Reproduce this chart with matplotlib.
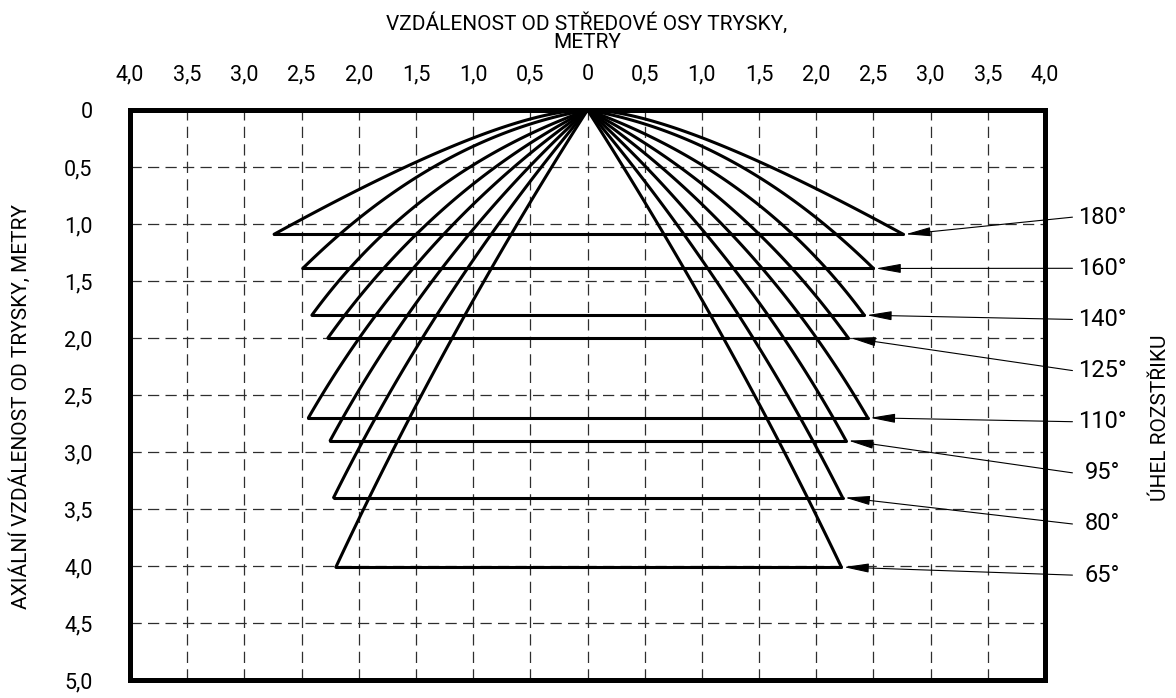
import numpy as np
import matplotlib
matplotlib.use("Agg")
import matplotlib.pyplot as plt

plt.rcParams['font.family'] = ['Roboto', 'DejaVu Sans']

# spray angle (deg), depth of the spray cone (m), half-widths left/right (m)
angles = [180, 160, 140, 125, 110, 95, 80, 65]
depths = [1.09, 1.39, 1.80, 2.00, 2.70, 2.90, 3.40, 4.01]
left_w = [2.74, 2.49, 2.41, 2.27, 2.44, 2.25, 2.22, 2.20]
right_w = [2.76, 2.50, 2.42, 2.28, 2.45, 2.26, 2.23, 2.22]
# how far the curve control point sits along the initial spray direction
ctrl_frac = [0.26, 0.47, 0.53, 0.50, 0.50, 0.50, 0.50, 0.50]

x_ticks = np.arange(-4.0, 4.01, 0.5)
y_ticks = np.arange(0.0, 5.01, 0.5)


def fmt(v):
    v = abs(v)
    if v < 1e-9:
        return "0"
    return f"{v:.1f}".replace(".", ",")


def spray_curve(w, d, ang, frac, side):
    # quadratic bezier from nozzle, leaving at half the spray angle
    a = np.radians(ang / 2.0)
    L = frac * np.hypot(w, d)
    px, py = side * L * np.sin(a), L * np.cos(a)
    t = np.linspace(0, 1, 120)
    x = 2 * t * (1 - t) * px + t ** 2 * side * w
    y = 2 * t * (1 - t) * py + t ** 2 * d
    return x, y


fig = plt.figure(figsize=(11.76, 6.98), dpi=100)
ax = fig.add_axes([130 / 1176, 1 - 680 / 698, 915 / 1176, 570 / 698])

ax.set_xlim(-4, 4)
ax.set_ylim(5, 0)

ax.set_xticks(x_ticks)
ax.set_xticklabels([fmt(v) for v in x_ticks])
ax.set_yticks(y_ticks)
ax.set_yticklabels([fmt(v) for v in y_ticks])
ax.xaxis.tick_top()
ax.tick_params(axis='x', length=0, pad=18, labelsize=15.5)
ax.tick_params(axis='y', length=0, pad=27, labelsize=15.5)

ax.grid(True, color='#2e2e2e', lw=0.9, linestyle=(0, (9, 5)))
ax.set_axisbelow(True)
for s in ax.spines.values():
    s.set_linewidth(3.6)
    s.set_color('black')

for ang, d, wl, wr, f in zip(angles, depths, left_w, right_w, ctrl_frac):
    xl, yl = spray_curve(wl, d, ang, f, -1)
    xr, yr = spray_curve(wr, d, ang, f, 1)
    ax.plot(xl, yl, color='black', lw=2.2, solid_capstyle='round', zorder=3)
    ax.plot(xr, yr, color='black', lw=2.2, solid_capstyle='round', zorder=3)
    ax.plot([-wl, wr], [d, d], color='black', lw=2.2, solid_capstyle='round', zorder=3)

# angle labels with leader arrows
label_y = np.linspace(0.94, 4.08, len(angles))
for ang, d, wr, ly in zip(angles, depths, right_w, label_y):
    ax.annotate("", xy=(wr + 0.02, d), xytext=(4.24, ly),
                arrowprops=dict(arrowstyle='-|>,head_length=1.1,head_width=0.2',
                                mutation_scale=14, lw=0.8, color='black',
                                shrinkA=0, shrinkB=0),
                annotation_clip=False, zorder=4)
    ax.text(4.50, ly, f"{ang}°", ha='center', va='center', fontsize=17,
            clip_on=False)

fig.text(587 / 1176, 1 - 23 / 698, "VZDÁLENOST OD STŘEDOVÉ OSY TRYSKY,",
         ha='center', va='center', fontsize=15)
fig.text(587 / 1176, 1 - 43 / 698, "METRY", ha='center', va='center', fontsize=15)
fig.text(20 / 1176, 1 - 407 / 698, "AXIÁLNÍ VZDÁLENOST OD TRYSKY, METRY",
         rotation=90, ha='center', va='center', fontsize=15)
fig.text(1160 / 1176, 1 - 418 / 698, "ÚHEL ROZSTŘIKU",
         rotation=90, ha='center', va='center', fontsize=15)

fig.savefig("out.png", dpi=100)
